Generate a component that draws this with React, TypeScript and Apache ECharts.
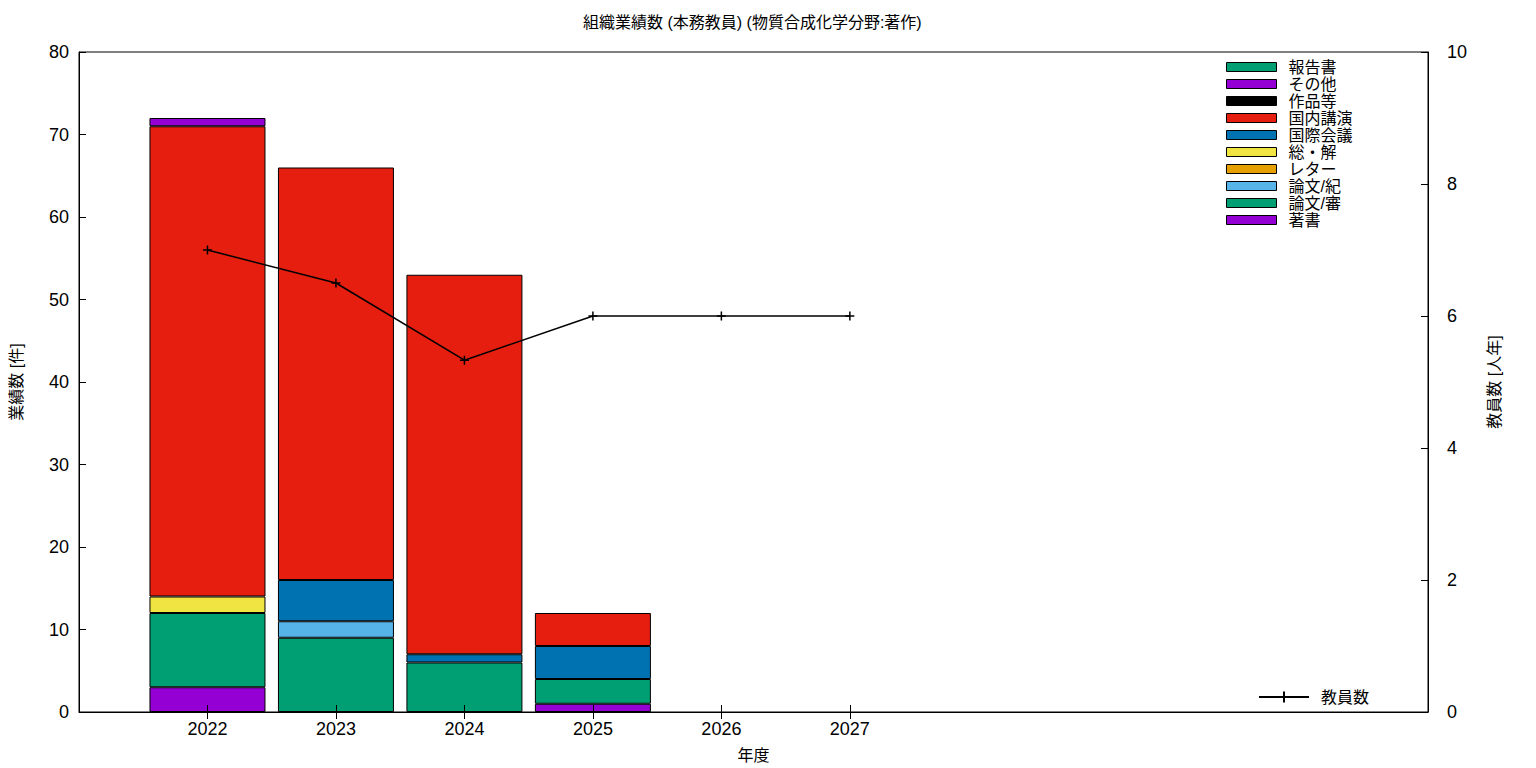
import React, { useEffect, useRef } from "react";
import * as echarts from "echarts";

const years = [2022, 2023, 2024, 2025];
const lineYears = [2022, 2023, 2024, 2025, 2026, 2027];
const tickYears = [2022, 2023, 2024, 2025, 2026, 2027];
const axisStart = 2021;
const axisEnd = 2031.5;
const axisStep = 0.5;

// stack order bottom -> top
const seriesNames = ["著書", "論文/審", "論文/紀", "レター", "総・解", "国際会議", "国内講演", "作品等", "その他", "報告書"];
const seriesColors = ["#9400d3", "#009e73", "#56b4e9", "#e69f00", "#f0e442", "#0072b2", "#e51e10", "#000000", "#9400d3", "#009e73"];

const chosho = [3, 0, 0, 1];
const ronbunShin = [9, 9, 6, 3];
const ronbunKi = [0, 2, 0, 0];
const letter = [0, 0, 0, 0];
const soukai = [2, 0, 0, 0];
const kokusai = [0, 5, 1, 4];
const kokunai = [57, 50, 46, 4];
const sakuhin = [0, 0, 0, 0];
const sonota = [1, 0, 0, 0];
const houkoku = [0, 0, 0, 0];

const staff = [7, 6.5, 5.33, 6, 6, 6];

const seriesValues = [chosho, ronbunShin, ronbunKi, letter, soukai, kokusai, kokunai, sakuhin, sonota, houkoku];

const FONT = "'Liberation Sans', 'Noto Sans CJK JP', sans-serif";

export default function App() {
  const ref = useRef<HTMLDivElement>(null);
  useEffect(() => {
    if (!ref.current) return;
    const chart = echarts.init(ref.current, undefined, { renderer: "svg" });
    const cats: string[] = [];
    for (let v = axisStart; v <= axisEnd + 1e-9; v += axisStep) cats.push(String(v));
    const isTick = (_i: number, val: string) => tickYears.includes(Number(val));

    const barSeries = seriesNames.map((name, i) => ({
      name,
      type: "bar",
      stack: "total",
      xAxisIndex: 0,
      yAxisIndex: 0,
      barWidth: 116,
      itemStyle: { color: seriesColors[i], borderColor: "#000", borderWidth: 1 },
      data: cats.map((c) => {
        const j = years.indexOf(Number(c));
        return j >= 0 && seriesValues[i][j] !== 0 ? seriesValues[i][j] : "-";
      }),
    }));
    const lineData = cats.map((c) => {
      const j = lineYears.indexOf(Number(c));
      return j >= 0 ? staff[j] : "-";
    });
    const xCommon = {
      type: "category",
      data: cats,
      boundaryGap: false,
      splitLine: { show: false },
      z: 5,
    };
    const option: any = {
      animation: false,
      textStyle: { fontFamily: FONT },
      title: {
        text: "組織業績数 (本務教員) (物質合成化学分野:著作)",
        left: 583,
        top: 14,
        padding: 0,
        textStyle: { fontSize: 16, fontWeight: "normal", color: "#000", fontFamily: FONT },
      },
      grid: {
        left: 77,
        right: 108,
        top: 52,
        bottom: 55,
        show: true,
        borderColor: "#000",
        borderWidth: 1,
        containLabel: false,
      },
      legend: [
        {
          orient: "vertical",
          left: 1226,
          top: 59,
          padding: 0,
          icon: "rect",
          itemWidth: 50,
          itemHeight: 9,
          itemGap: 1,
          data: seriesNames.slice().reverse(),
          itemStyle: { borderColor: "#000", borderWidth: 1 },
          textStyle: { fontSize: 16, lineHeight: 16, color: "#000", padding: [0, 0, 0, 7], fontFamily: FONT },
          selectedMode: false,
        },
        {
          orient: "vertical",
          left: 1258,
          top: 689,
          padding: 0,
          itemWidth: 50,
          itemHeight: 14,
          data: ["教員数"],
          textStyle: { fontSize: 16, color: "#000", padding: [0, 0, 0, 7], fontFamily: FONT },
          selectedMode: false,
        },
      ],
      xAxis: [
        {
          ...xCommon,
          position: "bottom",
          name: "年度",
          nameLocation: "middle",
          nameGap: 35,
          nameTextStyle: { fontSize: 16, color: "#000", fontFamily: FONT },
          axisLine: { show: true, lineStyle: { color: "#000" } },
          axisTick: { show: true, inside: true, length: 7, interval: isTick, lineStyle: { color: "#000" } },
          axisLabel: { interval: isTick, fontSize: 18, color: "#000", margin: 8, fontFamily: FONT },
        },
        {
          ...xCommon,
          position: "top",
          axisLine: { show: false },
          axisTick: { show: true, inside: true, length: 7, interval: isTick, lineStyle: { color: "#000" } },
          axisLabel: { show: false },
        },
      ],
      yAxis: [
        {
          type: "value",
          min: 0,
          max: 80,
          interval: 10,
          position: "left",
          name: "業績数 [件]",
          nameLocation: "middle",
          nameGap: 55,
          nameRotate: 90,
          nameTextStyle: { fontSize: 16, color: "#000", fontFamily: FONT },
          axisLine: { show: true, lineStyle: { color: "#000" } },
          axisTick: { show: true, inside: true, length: 7, lineStyle: { color: "#000" } },
          axisLabel: { fontSize: 18, color: "#000", margin: 10, fontFamily: FONT },
          splitLine: { show: false },
        },
        {
          type: "value",
          min: 0,
          max: 10,
          interval: 2,
          position: "right",
          name: "教員数 [人年]",
          nameLocation: "middle",
          nameGap: 58,
          nameRotate: 90,
          nameTextStyle: { fontSize: 16, color: "#000", fontFamily: FONT },
          axisLine: { show: true, lineStyle: { color: "#000" } },
          axisTick: { show: true, inside: true, length: 7, lineStyle: { color: "#000" } },
          axisLabel: { fontSize: 18, color: "#000", margin: 19, fontFamily: FONT },
          splitLine: { show: false },
        },
      ],
      series: [
        ...barSeries,
        {
          name: "教員数",
          type: "line",
          xAxisIndex: 0,
          yAxisIndex: 1,
          connectNulls: true,
          symbol: "path://M5,0L5,10M0,5L10,5",
          symbolSize: 9,
          lineStyle: { color: "#000", width: 1.5 },
          itemStyle: { color: "#000", borderColor: "#000", borderWidth: 1.5 },
          data: lineData,
          z: 10,
        },
      ],
    };
    chart.setOption(option);
    return () => chart.dispose();
  }, []);
  return (
    <div
      ref={ref}
      style={{ position: "fixed", left: 0, top: 0, width: 1536, height: 768, background: "#fff" }}
    />
  );
}
